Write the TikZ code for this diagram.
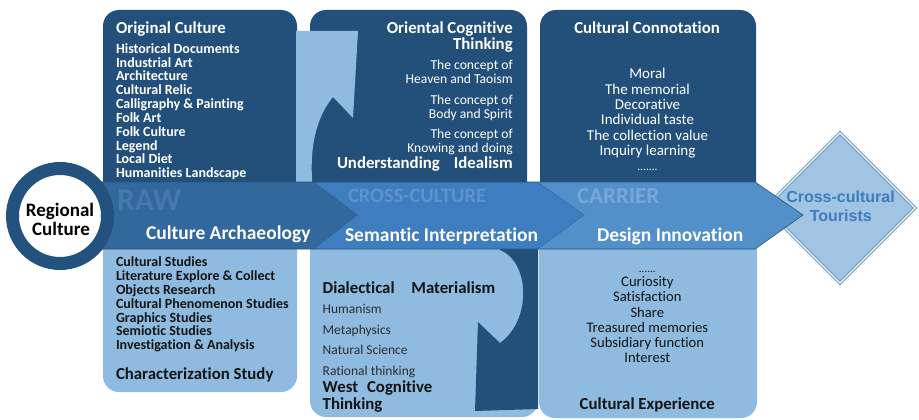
\documentclass[tikz,border=0pt]{standalone}
\usepackage{fontspec}
\setmainfont{Carlito}[Ligatures=NoCommon]
\newfontfamily\arialfont{Liberation Sans}

\definecolor{darkbox}{RGB}{34,80,123}
\definecolor{lightbox}{RGB}{142,187,223}
\definecolor{chevA}{RGB}{51,104,156}
\definecolor{chevB}{RGB}{61,125,192}
\definecolor{chevC}{RGB}{83,144,202}
\definecolor{chevedge}{RGB}{38,82,128}
\definecolor{markA}{RGB}{70,119,173}
\definecolor{markB}{RGB}{94,147,203}
\definecolor{markC}{RGB}{118,167,216}
\definecolor{ringc}{RGB}{36,82,126}
\definecolor{diafill}{RGB}{160,196,226}
\definecolor{diaedge}{RGB}{88,143,199}
\definecolor{diatext}{RGB}{60,125,192}
\definecolor{inktext}{RGB}{20,20,20}
\definecolor{softtext}{RGB}{45,45,50}

\tikzset{
  txt/.style={inner sep=0pt, outer sep=0pt},
  headw/.style={txt, text=white, font=\fontsize{16.8}{18}\selectfont\bfseries},
  headk/.style={txt, text=inktext, font=\fontsize{16.8}{18}\selectfont\bfseries},
  listw/.style={txt, text=white, font=\fontsize{14}{14}\selectfont\bfseries},
  listk/.style={txt, text=inktext, font=\fontsize{14}{14}\selectfont\bfseries},
  conceptw/.style={txt, text=white, font=\fontsize{13.6}{14}\selectfont},
  valuew/.style={txt, text=white, font=\fontsize{15}{15}\selectfont},
  thoughtk/.style={txt, text=softtext, font=\fontsize{13.5}{14}\selectfont},
  feelk/.style={txt, text=inktext, font=\fontsize{14.6}{15}\selectfont},
  stagelabel/.style={txt, text=white, font=\fontsize{19.5}{20}\selectfont\bfseries},
  watermark/.style={txt, font=\bfseries},
  darkpanel/.style={fill=darkbox, rounded corners=16pt},
  lightpanel/.style={fill=lightbox, rounded corners=16pt},
  chevron/.style={draw=chevedge, line width=0.6pt, line join=miter},
}

\begin{document}
\begin{tikzpicture}[x=1pt, y=-1pt]
\useasboundingbox (0,0) rectangle (919,420);

% upper panels
\fill[darkpanel] (103,10) rectangle (297,200);
\fill[darkpanel] (310,10) rectangle (527,200);
\fill[darkpanel] (540,10) rectangle (756,200);

% lower panels
\fill[lightpanel] (103,230) rectangle (297,392);
\fill[lightpanel] (310,230) rectangle (538,417);
\fill[lightpanel] (539,230) rectangle (757,418);

% curved arrow cut into the oriental thinking panel
\fill[lightbox] (296,31) -- (358,31) -- (353,118) -- (333,97)
  .. controls (318,115) and (308,145) .. (313,190) -- (296,190) -- cycle;

% curved arrow turning down into the west thinking panel
\fill[darkbox] (500,240) -- (538,240) -- (538,409) -- (475,411) -- (478,322) -- (500,343)
  .. controls (532,320) and (530,262) .. (500,250) -- cycle;

% target diamond
\fill[diafill] (840,131) -- (917,208) -- (840,285) -- (763,208) -- cycle;
\draw[diaedge, line width=0.9pt, double=white, double distance=1.2pt, line join=miter]
  (840,133) -- (915,208) -- (840,283) -- (765,208) -- cycle;

% process chevrons
\fill[chevA] (90,182) -- (314,182) -- (358,215) -- (314,249) -- (90,249) -- cycle;
\draw[chevron] (90,182) -- (314,182) -- (358,215) -- (314,249) -- (90,249);
\fill[chevB] (314,182) -- (538,182) -- (585,215) -- (538,249) -- (314,249) -- (358,215) -- cycle;
\draw[chevron] (314,182) -- (538,182) -- (585,215) -- (538,249) -- (314,249);
\fill[chevC] (538,182) -- (755,182) -- (803,215) -- (755,249) -- (538,249) -- (585,215) -- cycle;
\draw[chevron] (538,182) -- (755,182) -- (803,215) -- (755,249) -- (538,249);

% starting ring
\node[circle, fill=white, draw=ringc, line width=13pt, minimum size=95pt, inner sep=0pt] (region) at (60,216) {};

% stage watermarks and labels
\node[watermark, text=markA, font=\fontsize{31.6}{32}\selectfont\bfseries, anchor=base west] (wraw) at (117,210) {RAW};
\node[watermark, text=markB, font=\fontsize{20.5}{21}\selectfont\bfseries, anchor=base west] (wcross) at (348,202.7) {CROSS-CULTURE};
\node[watermark, text=markC, font=\fontsize{23}{24}\selectfont\bfseries, anchor=base west] (wcarrier) at (577,203.3) {CARRIER};
\node[stagelabel, anchor=base west] (archaeology) at (146,239) {Culture Archaeology};
\node[stagelabel, anchor=base west] (semantic) at (345,241) {Semantic Interpretation};
\node[stagelabel, anchor=base west] (design) at (597,241) {Design Innovation};

% ring text
\node[txt, text=black, font=\fontsize{19}{20}\selectfont\bfseries, anchor=base] (regionA) at (60,216) {Regional};
\node[txt, text=black, font=\fontsize{19}{20}\selectfont\bfseries, anchor=base] (regionB) at (61,235) {Culture};

% diamond text
\node[txt, text=diatext, font=\fontsize{16}{17}\selectfont\arialfont\bfseries, anchor=base] (touristsA) at (840.5,202.7) {Cross-cultural};
\node[txt, text=diatext, font=\fontsize{16}{17}\selectfont\arialfont\bfseries, anchor=base] (touristsB) at (840.8,221.7) {Tourists};

% original culture panel
\node[headw, anchor=base west] (orighead) at (116,33.3) {Original Culture};
\foreach \t [count=\i] in {Historical Documents, Industrial Art, Architecture, Cultural Relic,
    Calligraphy \& Painting, Folk Art, Folk Culture, Legend, Local Diet, Humanities Landscape}
  \node[listw, anchor=base west] (orig\i) at (116,{53.3+13.82*(\i-1)}) {\t};

% oriental thinking panel
\node[headw, anchor=base east] (orientA) at (512.7,33.3) {Oriental Cognitive};
\node[headw, anchor=base east] (orientB) at (512.7,50) {Thinking};
\foreach \t/\y [count=\i] in {The concept of/70, Heaven and Taoism/84, The concept of/104,
    Body and Spirit/118.3, The concept of/138.7, Knowing and doing/152.7}
  \node[conceptw, anchor=base east] (concept\i) at (512.7,\y) {\t};
\node[headw, anchor=base east] (idealism) at (512.7,168.3) {Understanding\hspace{14pt}Idealism};

% connotation panel
\node[headw, anchor=base] (connhead) at (647,33.3) {Cultural Connotation};
\foreach \t [count=\i] in {Moral, The memorial, Decorative, Individual taste,
    The collection value, Inquiry learning}
  \node[valuew, anchor=base] (conn\i) at (647.5,{79+15.3*(\i-1)}) {\t};
\node[txt, text=white, font=\fontsize{11.5}{12}\selectfont, anchor=base] (conndots) at (647.5,170.7) {.......};

% characterization panel
\foreach \t [count=\i] in {Cultural Studies, Literature Explore \& Collect, Objects Research,
    Cultural Phenomenon Studies, Graphics Studies, Semiotic Studies, Investigation \& Analysis}
  \node[listk, anchor=base west] (char\i) at (116,{266.7+13.83*(\i-1)}) {\t};
\node[headk, anchor=base west] (charhead) at (116,379.3) {Characterization Study};

% west thinking panel
\node[headk, anchor=base west] (materialism) at (322.7,293.3) {Dialectical\hspace{16.7pt}Materialism};
\foreach \t [count=\i] in {Humanism, Metaphysics, Natural Science, Rational thinking}
  \node[thoughtk, anchor=base west] (west\i) at (322.7,{313.3+20.8*(\i-1)}) {\t};
\node[headk, anchor=base west] (westA) at (322.7,392.7) {West\hspace{9pt}Cognitive};
\node[headk, anchor=base west] (westB) at (322.7,409.3) {Thinking};

% experience panel
\node[txt, text=inktext, font=\fontsize{11}{12}\selectfont, anchor=base] (expdots) at (647.3,272.3) {......};
\foreach \t [count=\i] in {Curiosity, Satisfaction, Share, Treasured memories,
    Subsidiary function, Interest}
  \node[feelk, anchor=base] (exp\i) at (647.3,{286.7+15.2*(\i-1)}) {\t};
\node[headk, anchor=base] (exphead) at (647.3,409.3) {Cultural Experience};
\end{tikzpicture}
\end{document}
